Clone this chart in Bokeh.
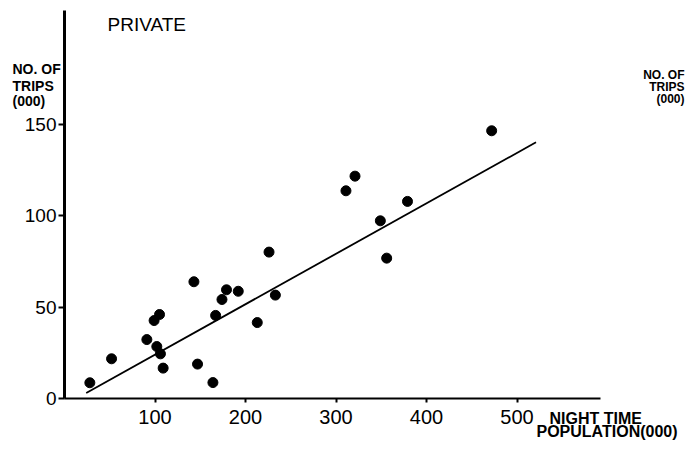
from bokeh.plotting import figure
from bokeh.models import Range1d, FixedTicker, Label
from bokeh.embed import file_html
from bokeh.resources import INLINE

# Data
pop = [28, 52, 91, 99, 105, 102, 106, 109, 143, 147, 164, 167, 174, 179, 192,
       213, 226, 233, 311, 321, 349, 356, 379, 472]
trips = [8.6, 21.7, 32.2, 42.6, 45.9, 28.4, 24.4, 16.6, 63.8, 18.8, 8.7, 45.4,
         54.1, 59.4, 58.6, 41.5, 80.0, 56.5, 113.5, 121.5, 97.1, 76.7, 107.7, 146.3]
fit_x = [24, 521]
fit_y = [3, 140]
x_ticks = [100, 200, 300, 400, 500]
y_ticks = [0, 50, 100, 150]
x_axis_end = 592
y_axis_end = 212

# layout: data origin at picture pixel (64, 398), 0.905 px/unit x, 1.83 px/unit y
W, H = 685, 452
X0, Y0, SX, SY = 64, 398, 0.905, 1.83
def dx(px):
    return (px - X0) / SX
def dy(py):
    return (Y0 - py) / SY

p = figure(width=W, height=H, output_backend="svg", toolbar_location=None,
           x_range=Range1d(dx(0), dx(W)), y_range=Range1d(dy(H), dy(0)),
           min_border_left=0, min_border_right=0, min_border_top=0,
           min_border_bottom=0, background_fill_color="white",
           border_fill_color="white")
p.outline_line_color = None
p.xgrid.visible = False
p.ygrid.visible = False

p.xaxis.ticker = FixedTicker(ticks=x_ticks)
p.yaxis.ticker = FixedTicker(ticks=y_ticks)
p.xaxis.fixed_location = 0
p.yaxis.fixed_location = 0
p.xaxis.bounds = (0, x_axis_end)
p.yaxis.bounds = (0, y_axis_end)
for ax in (p.xaxis, p.yaxis):
    ax.minor_tick_line_color = None
    ax.major_tick_in = 0
    ax.axis_line_color = "black"
    ax.major_tick_line_color = "black"
    ax.major_label_text_color = "black"
    ax.major_label_text_font = "Liberation Sans"
p.xaxis.axis_line_width = 2
p.xaxis.major_tick_out = 4
p.xaxis.major_tick_line_width = 2
p.xaxis.major_label_standoff = 7
p.xaxis.major_label_text_font_size = "20px"
p.yaxis.axis_line_width = 3
p.yaxis.major_tick_out = 6
p.yaxis.major_tick_line_width = 2
p.yaxis.major_label_standoff = 2
p.yaxis.major_label_text_font_size = "19px"

p.line(fit_x, fit_y, line_color="black", line_width=1.8)
p.scatter(pop, trips, size=10, fill_color="black", line_color="black")

def lab(text, px, py, size, bold=True, align="left"):
    p.add_layout(Label(x=dx(px), y=dy(py), text=text, text_font="Liberation Sans",
                       text_font_size=size, text_color="black",
                       text_font_style="bold" if bold else "normal",
                       text_baseline="alphabetic", text_align=align))

lab("PRIVATE", 107, 24, "19px", bold=False)
lab("NO. OF", 12, 68, "14px")
lab("TRIPS", 12, 85, "14px")
lab("(000)", 12, 100, "14px")
lab("NIGHT TIME", 549, 418, "16px")
lab("POPULATION(000)", 536, 431, "16px")
lab("NO. OF", 684, 74, "12px", align="right")
lab("TRIPS", 684, 86, "12px", align="right")
lab("(000)", 684, 98, "12px", align="right")

open("out.html", "w").write(file_html(p, INLINE))
